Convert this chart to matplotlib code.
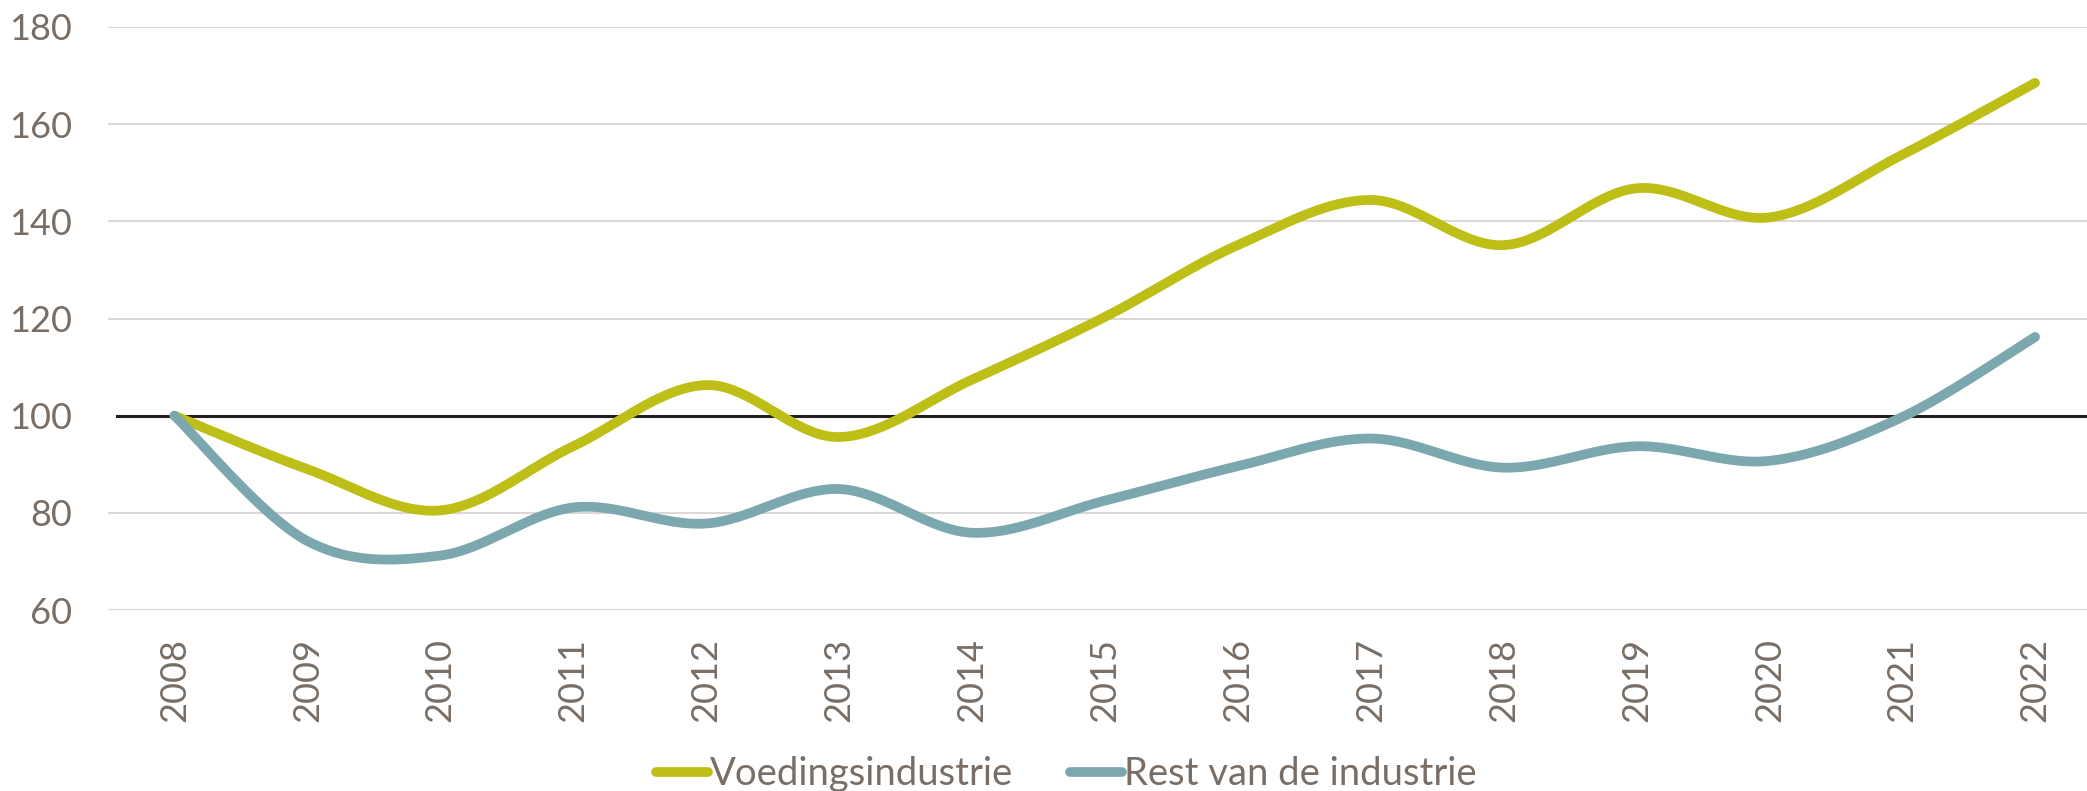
import numpy as np
import matplotlib
matplotlib.use("Agg")
from matplotlib import pyplot as plt

plt.rcParams['font.family'] = ['Lato', 'DejaVu Sans']

years = ['2008', '2009', '2010', '2011', '2012', '2013', '2014', '2015',
         '2016', '2017', '2018', '2019', '2020', '2021', '2022']
voeding = [100, 89.0, 80.5, 93.7, 106.3, 95.6, 107.4, 120.3,
           135.1, 144.4, 135.1, 146.8, 140.8, 153.7, 168.5]
rest = [100, 74.2, 71.2, 81.1, 77.8, 84.9, 75.9, 82.5,
        89.6, 95.3, 89.3, 93.7, 90.7, 99.7, 116.2]
y_ticks = [60, 80, 100, 120, 140, 160, 180]

TEXT = '#786E65'
GRID = '#DDD8D5'
C_VOED = '#BDBE16'
C_REST = '#7BA8AF'


def smooth(xs, ys, n=40):
    # Excel style smoothed line: Catmull-Rom as cubic Bezier segments
    xs = np.asarray(xs, float)
    ys = np.asarray(ys, float)
    px = np.concatenate([[xs[0]], xs, [xs[-1]]])
    py = np.concatenate([[ys[0]], ys, [ys[-1]]])
    t = np.linspace(0, 1, n)
    outx, outy = [], []
    for i in range(1, len(px) - 2):
        p0 = np.array([px[i], py[i]])
        p3 = np.array([px[i + 1], py[i + 1]])
        c1 = p0 + (p3 - np.array([px[i - 1], py[i - 1]])) / 6
        c2 = p3 - (np.array([px[i + 2], py[i + 2]]) - p0) / 6
        pts = ((1 - t)[:, None] ** 3 * p0 + 3 * ((1 - t) ** 2 * t)[:, None] * c1
               + 3 * ((1 - t) * t ** 2)[:, None] * c2 + (t ** 3)[:, None] * p3)
        outx.extend(pts[:, 0])
        outy.extend(pts[:, 1])
    return np.array(outx), np.array(outy)


fig = plt.figure(figsize=(20.87, 7.91), dpi=100)
ax = fig.add_axes([108 / 2087, 1 - 610 / 791, 1 - 108 / 2087, (610 - 27) / 791])

x = np.arange(len(years))
for g in y_ticks:
    if g != 100:
        ax.axhline(g, color=GRID, lw=1.5, zorder=1)
ax.axhline(100, xmin=(117 - 108) / (2087 - 108), color='#231F20', lw=2.2, zorder=2)

sx, sy = smooth(x, voeding)
ax.plot(sx, sy, color=C_VOED, lw=7, solid_capstyle='round', zorder=3, label='Voedingsindustrie')
sx, sy = smooth(x, rest)
ax.plot(sx, sy, color=C_REST, lw=7, solid_capstyle='round', zorder=3, label='Rest van de industrie')

ax.set_xlim(-0.5, -0.5 + (2087 - 108) / 132.9)
ax.set_ylim(60, 180)
ax.set_xticks(x)
ax.set_xticklabels(years, rotation=90)
ax.set_yticks(y_ticks)
ax.tick_params(axis='both', length=0, labelsize=26, labelcolor=TEXT)
ax.tick_params(axis='x', pad=20)
ax.tick_params(axis='y', pad=26)
for s in ax.spines.values():
    s.set_visible(False)

fig.legend(loc='center', bbox_to_anchor=(0.511, 1 - 774 / 791), ncol=2, frameon=False,
           fontsize=27.5, labelcolor=TEXT, handlelength=1.35, handletextpad=0.05,
           columnspacing=1.5)

fig.savefig('out.png', dpi=100)
